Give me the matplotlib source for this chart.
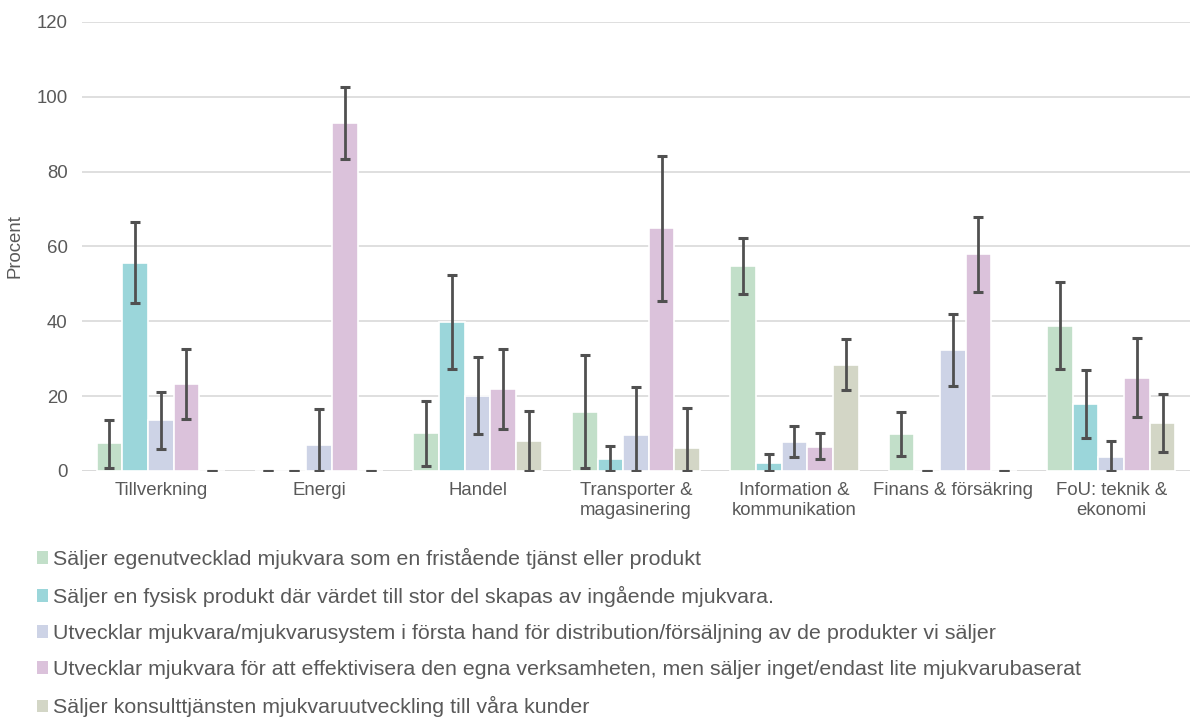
import matplotlib
matplotlib.use("Agg")
import matplotlib.pyplot as plt
import numpy as np
from matplotlib.patches import Patch

plt.rcParams['font.family'] = ['Liberation Sans', 'DejaVu Sans']

categories = ["Tillverkning", "Energi", "Handel", "Transporter &\nmagasinering",
              "Information &\nkommunikation", "Finans & försäkring", "FoU: teknik &\nekonomi"]

series_names = [
    "Säljer egenutvecklad mjukvara som en fristående tjänst eller produkt",
    "Säljer en fysisk produkt där värdet till stor del skapas av ingående mjukvara.",
    "Utvecklar mjukvara/mjukvarusystem i första hand för distribution/försäljning av de produkter vi säljer",
    "Utvecklar mjukvara för att effektivisera den egna verksamheten, men säljer inget/endast lite mjukvarubaserat",
    "Säljer konsulttjänsten mjukvaruutveckling till våra kunder",
]

# values per series (one per category)
egen = [7.4, 0.0, 10.1, 15.8, 54.8, 9.8, 38.7]
fysisk = [55.5, 0.0, 39.9, 3.1, 2.0, 0.0, 17.8]
distrib = [13.5, 6.9, 20.0, 9.6, 7.7, 32.2, 3.6]
effekt = [23.1, 92.9, 21.8, 64.9, 6.4, 58.0, 24.9]
konsult = [0.0, 0.0, 7.9, 6.1, 28.3, 0.0, 12.7]

# error bar lower / upper bounds
egen_lo = [0.7, 0.0, 1.3, 0.9, 47.2, 3.9, 27.2]
egen_hi = [13.6, 0.0, 18.8, 31.0, 62.2, 15.8, 50.4]
fysisk_lo = [45.0, 0.0, 27.3, 0.0, 0.0, 0.0, 8.9]
fysisk_hi = [66.5, 0.0, 52.4, 6.7, 4.4, 0.0, 26.9]
distrib_lo = [5.9, 0.0, 9.8, 0.0, 3.6, 22.8, 0.0]
distrib_hi = [21.1, 16.5, 30.4, 22.5, 12.0, 41.9, 8.0]
effekt_lo = [13.8, 83.3, 11.1, 45.5, 3.1, 47.7, 14.5]
effekt_hi = [32.5, 102.5, 32.5, 84.3, 10.2, 67.9, 35.4]
konsult_lo = [0.0, 0.0, 0.0, 0.0, 21.5, 0.0, 5.0]
konsult_hi = [0.0, 0.0, 16.1, 16.8, 35.3, 0.0, 20.5]

values = [egen, fysisk, distrib, effekt, konsult]
lows = [egen_lo, fysisk_lo, distrib_lo, effekt_lo, konsult_lo]
highs = [egen_hi, fysisk_hi, distrib_hi, effekt_hi, konsult_hi]
colors = ["#C2DFC9", "#9BD6DA", "#CDD3E6", "#DBC2DB", "#D3D6C6"]

fig = plt.figure(figsize=(12, 7.2), dpi=100)
ax = fig.add_axes([0.068, 0.346, 0.924, 0.6235])

n = len(values)
x = np.arange(len(categories))
bw = 0.162
text_color = "#595959"

for i, (v, lo, hi, c) in enumerate(zip(values, lows, highs, colors)):
    pos = x + (i - (n - 1) / 2) * bw
    v = np.array(v)
    ax.bar(pos, v, width=bw, color=c, edgecolor="white", linewidth=1.2, zorder=2)
    err = np.vstack([v - np.array(lo), np.array(hi) - v])
    ax.errorbar(pos, v, yerr=err, fmt="none", ecolor="#505050", elinewidth=2.0,
                capsize=3.6, capthick=2.2, zorder=3)

ax.set_xlim(-0.5, len(categories) - 0.5)
ax.set_ylim(0, 120)
ax.set_yticks(range(0, 121, 20))
ax.set_xticks(x)
ax.set_xticklabels(categories)
ax.grid(axis="y", color="#D9D9D9", linewidth=1.2, zorder=0)
ax.set_axisbelow(True)
for s in ["top", "right", "left", "bottom"]:
    ax.spines[s].set_visible(False)
ax.axhline(0, color="#D9D9D9", linewidth=1.2, zorder=1)
ax.tick_params(axis="both", length=0, labelsize=13.4, colors=text_color)
ax.tick_params(axis="y", pad=10)
ax.tick_params(axis="x", pad=8)
ax.set_ylabel("Procent", fontsize=13.4, color=text_color)
ax.yaxis.set_label_coords(-0.052, 0.5)

handles = [Patch(facecolor=c, edgecolor="none") for c in colors]
leg = fig.legend(handles, series_names, loc="upper left", bbox_to_anchor=(0.024, 0.251),
                 frameon=False, fontsize=15.4, labelspacing=0.8, handlelength=0.52,
                 handleheight=0.52, handletextpad=0.2, borderaxespad=0)
for t in leg.get_texts():
    t.set_color(text_color)

fig.savefig("out.png", dpi=100)
